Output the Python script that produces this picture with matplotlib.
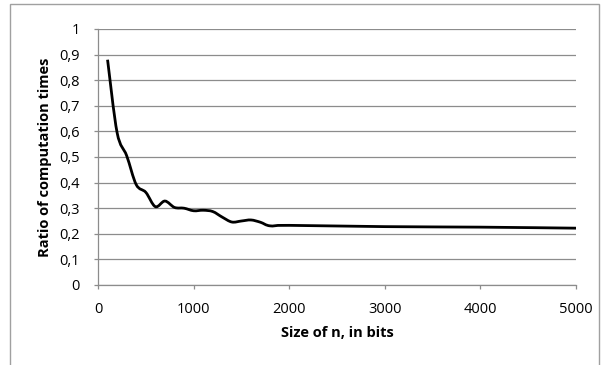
import matplotlib
matplotlib.use("Agg")
import matplotlib.pyplot as plt
from matplotlib.path import Path
from matplotlib.patches import PathPatch, Rectangle
import numpy as np

plt.rcParams['font.family'] = ['Open Sans', 'DejaVu Sans']

bits = [100, 200, 300, 400, 500, 600, 700, 800, 900, 1000, 1100, 1200, 1300,
        1400, 1500, 1600, 1700, 1800, 2000, 3000, 4000, 5000]
ratio = [0.88, 0.595, 0.505, 0.392, 0.362, 0.306, 0.328, 0.303, 0.300, 0.290, 0.292,
         0.287, 0.265, 0.246, 0.250, 0.254, 0.245, 0.231, 0.233, 0.228, 0.226, 0.222]
x_ticks = [0, 1000, 2000, 3000, 4000, 5000]
y_ticks = [0, 0.1, 0.2, 0.3, 0.4, 0.5, 0.6, 0.7, 0.8, 0.9, 1]
y_labels = ['0', '0,1', '0,2', '0,3', '0,4', '0,5', '0,6', '0,7', '0,8', '0,9', '1']


def smooth_path(x, y):
    # Excel-style smoothed line: cubic bezier segments (Catmull-Rom tangents)
    p = np.column_stack([x, y]).astype(float)
    verts = [p[0]]
    codes = [Path.MOVETO]
    n = len(p)
    for i in range(n - 1):
        p0 = p[i - 1] if i > 0 else p[i]
        p3 = p[i + 2] if i + 2 < n else p[i + 1]
        c1 = p[i] + (p[i + 1] - p0) / 6.0
        c2 = p[i + 1] - (p3 - p[i]) / 6.0
        verts += [c1, c2, p[i + 1]]
        codes += [Path.CURVE4] * 3
    return Path(verts, codes)


fig = plt.figure(figsize=(6.03, 3.65), dpi=100)
ax = fig.add_axes([98 / 603, 1 - 285 / 365, (576 - 98) / 603, (285 - 29) / 365])

ax.add_patch(PathPatch(smooth_path(bits, ratio), fill=False, lw=2.0,
                       edgecolor='black', capstyle='butt', zorder=3))
ax.plot(bits, ratio, lw=0)

ax.set_xlim(0, 5000)
ax.set_ylim(0, 1)
ax.set_xticks(x_ticks)
ax.set_yticks(y_ticks)
ax.set_yticklabels(y_labels)
ax.yaxis.grid(True, color='#8c8c8c', lw=0.9)
ax.set_axisbelow(True)
for s in ['top', 'right']:
    ax.spines[s].set_visible(False)
for s in ['left', 'bottom']:
    ax.spines[s].set_color('#8c8c8c')
    ax.spines[s].set_linewidth(0.9)
ax.tick_params(axis='both', direction='out', length=3, width=0.9,
               color='#8c8c8c', labelsize=10.5)
ax.tick_params(axis='x', pad=9)
ax.tick_params(axis='y', pad=10)
ax.set_xlabel('Size of n, in bits', fontsize=10.5, fontweight='bold', labelpad=7)
ax.set_ylabel('Ratio of computation times', fontsize=10.5, fontweight='bold', labelpad=5)

fig.patches.append(Rectangle((10 / 603, -0.1), (599 - 10) / 603, 1.1 - 4 / 365,
                             transform=fig.transFigure, fill=False,
                             edgecolor='#a0a0a0', lw=1.0))

fig.savefig('out.png', dpi=100)
